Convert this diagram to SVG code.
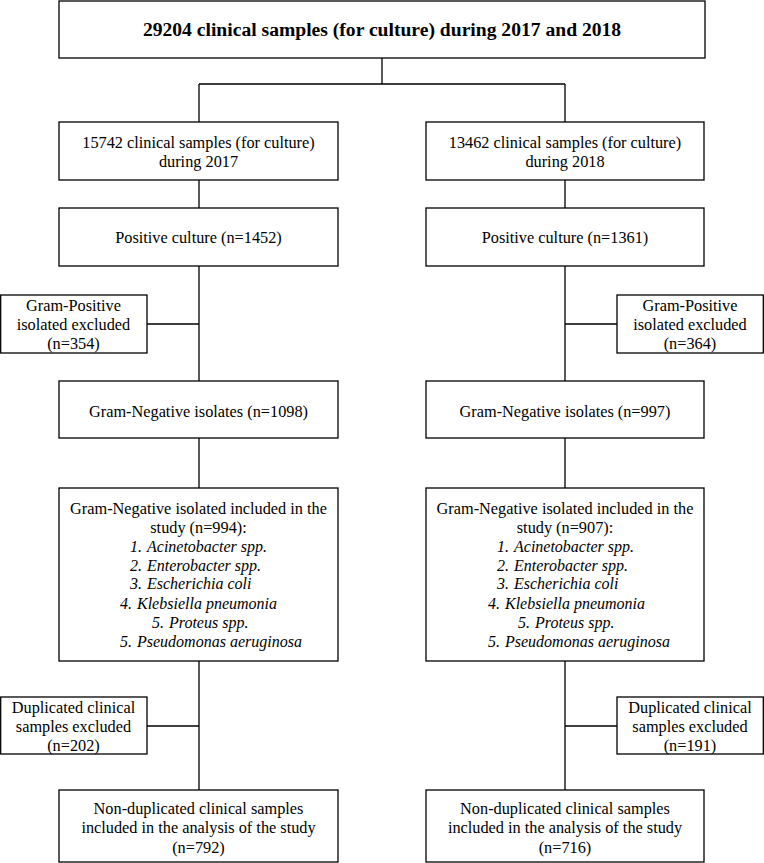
<svg xmlns="http://www.w3.org/2000/svg" width="764" height="863" viewBox="0 0 764 863">
<style>
.box{fill:#fff;stroke:#000;stroke-width:1.3}
.ln{fill:none;stroke:#000;stroke-width:1.3}
.tx text{font-size:16.3px;fill:#000;text-anchor:middle}
.tx .t{font-weight:bold;font-size:19.6px}
.tx .it{font-size:16px;font-style:italic;text-anchor:start}
</style>
<rect width="764" height="863" fill="#fff"/>
<g id="connectors">
<path class="ln" d="M382 58V84M199 84H565M199 84V122M565 84V122"/>
<path class="ln" d="M199 180V208M565 180V208"/>
<path class="ln" d="M199 266V381M147 324H199M565 266V381M565 324H617"/>
<path class="ln" d="M199 438V488M565 438V488"/>
<path class="ln" d="M199 661V790M147 726H199M565 661V790M565 726H617"/>
</g>
<g class="tx" font-family="Liberation Serif, Tinos, Times New Roman, serif">
<g id="top">
<rect class="box" x="59" y="1" width="646" height="57"/>
<text class="t" x="382" y="36">29204 clinical samples (for culture) during 2017 and 2018</text>
</g>
<g id="y2017">
<rect class="box" x="59" y="122" width="279" height="58"/>
<text x="198.5" y="148">15742 clinical samples (for culture)</text>
<text x="198.5" y="167">during 2017</text>
</g>
<g id="y2018">
<rect class="box" x="426" y="122" width="278" height="58"/>
<text x="565" y="148">13462 clinical samples (for culture)</text>
<text x="565" y="167">during 2018</text>
</g>
<g id="pos2017">
<rect class="box" x="59" y="208" width="279" height="58"/>
<text x="198.5" y="243">Positive culture (n=1452)</text>
</g>
<g id="pos2018">
<rect class="box" x="426" y="208" width="278" height="58"/>
<text x="565" y="243">Positive culture (n=1361)</text>
</g>
<g id="gp2017">
<rect class="box" x="0.7" y="295" width="146.3" height="58"/>
<text x="73.5" y="311">Gram-Positive</text>
<text x="73.5" y="330">isolated excluded</text>
<text x="73.5" y="349">(n=354)</text>
</g>
<g id="gp2018">
<rect class="box" x="617" y="295" width="146.3" height="58"/>
<text x="690" y="311">Gram-Positive</text>
<text x="690" y="330">isolated excluded</text>
<text x="690" y="349">(n=364)</text>
</g>
<g id="neg2017">
<rect class="box" x="59" y="381" width="279" height="57"/>
<text x="198.5" y="417">Gram-Negative isolates (n=1098)</text>
</g>
<g id="neg2018">
<rect class="box" x="426" y="381" width="278" height="57"/>
<text x="565" y="417">Gram-Negative isolates (n=997)</text>
</g>
<g id="inc2017">
<rect class="box" x="59" y="488" width="279" height="173"/>
<text x="198.5" y="514">Gram-Negative isolated included in the</text>
<text x="198.5" y="533">study (n=994):</text>
<text class="it" x="130" y="552">1.<tspan dx="5">Acinetobacter spp.</tspan></text>
<text class="it" x="130" y="571">2.<tspan dx="5">Enterobacter spp.</tspan></text>
<text class="it" x="130" y="589">3.<tspan dx="5">Escherichia coli</tspan></text>
<text class="it" x="120" y="609">4.<tspan dx="5">Klebsiella pneumonia</tspan></text>
<text class="it" x="152" y="628">5.<tspan dx="5">Proteus spp.</tspan></text>
<text class="it" x="120" y="647">5.<tspan dx="5">Pseudomonas aeruginosa</tspan></text>
</g>
<g id="inc2018">
<rect class="box" x="426" y="488" width="278" height="173"/>
<text x="565" y="514">Gram-Negative isolated included in the</text>
<text x="565" y="533">study (n=907):</text>
<text class="it" x="497" y="552">1.<tspan dx="5">Acinetobacter spp.</tspan></text>
<text class="it" x="497" y="571">2.<tspan dx="5">Enterobacter spp.</tspan></text>
<text class="it" x="497" y="589">3.<tspan dx="5">Escherichia coli</tspan></text>
<text class="it" x="488" y="609">4.<tspan dx="5">Klebsiella pneumonia</tspan></text>
<text class="it" x="518" y="628">5.<tspan dx="5">Proteus spp.</tspan></text>
<text class="it" x="488" y="647">5.<tspan dx="5">Pseudomonas aeruginosa</tspan></text>
</g>
<g id="dup2017">
<rect class="box" x="0.7" y="697" width="146.3" height="57"/>
<text x="73.5" y="713">Duplicated clinical</text>
<text x="73.5" y="732">samples excluded</text>
<text x="73.5" y="751">(n=202)</text>
</g>
<g id="dup2018">
<rect class="box" x="617" y="697" width="146.3" height="57"/>
<text x="690" y="713">Duplicated clinical</text>
<text x="690" y="732">samples excluded</text>
<text x="690" y="751">(n=191)</text>
</g>
<g id="fin2017">
<rect class="box" x="59" y="790" width="279" height="72"/>
<text x="198.5" y="814">Non-duplicated clinical samples</text>
<text x="198.5" y="833">included in the analysis of the study</text>
<text x="198.5" y="853">(n=792)</text>
</g>
<g id="fin2018">
<rect class="box" x="426" y="790" width="278" height="72"/>
<text x="565" y="814">Non-duplicated clinical samples</text>
<text x="565" y="833">included in the analysis of the study</text>
<text x="565" y="853">(n=716)</text>
</g>
</g>
</svg>
